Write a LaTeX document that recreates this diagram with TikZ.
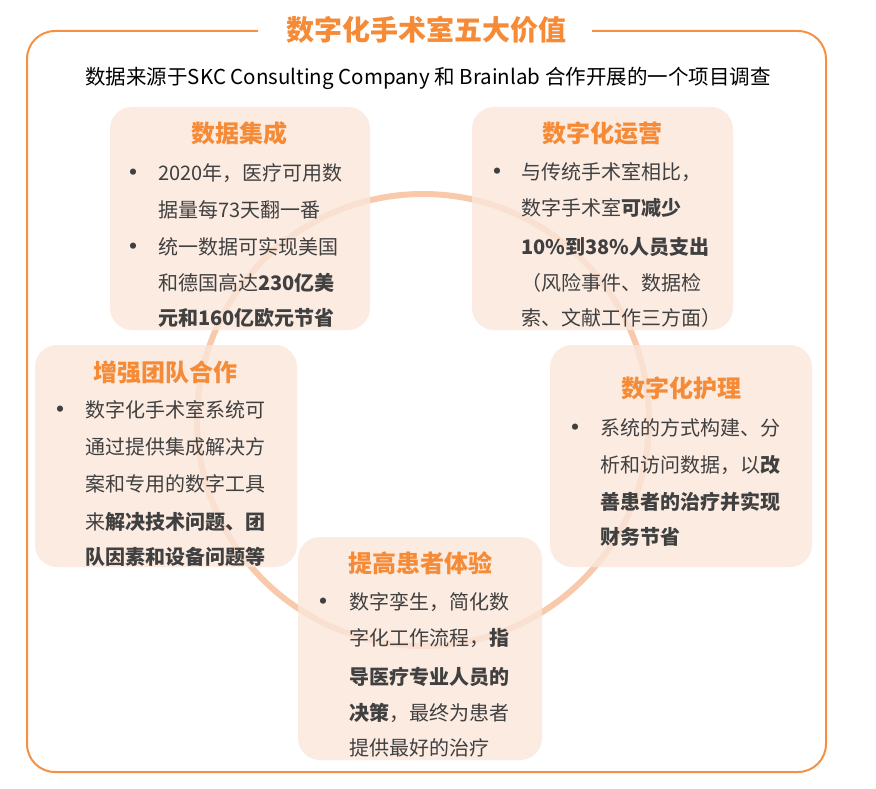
\documentclass[tikz,border=0pt]{standalone}
\usepackage{fontspec}
\setmainfont{Noto Sans CJK SC}
\definecolor{frameor}{RGB}{247,145,65}
\definecolor{heador}{RGB}{246,139,55}
\definecolor{boxfill}{RGB}{250,230,218}
\definecolor{ringc}{RGB}{248,201,170}
\definecolor{txt}{RGB}{64,64,64}
\begin{document}
\begin{tikzpicture}[x=1pt,y=-1pt,
  box/.style={draw=none,fill=boxfill,fill opacity=0.8,rounded corners=22,inner sep=0,minimum height=223},
  head/.style={inner sep=0,text=heador,font=\fontsize{24}{24}\selectfont\bfseries},
  ln/.style={anchor=west,inner sep=0,text=txt,font=\fontsize{20}{20}\selectfont,text height=17.6,text depth=2.4},
  bul/.style={ln,anchor=center,font=\fontsize{22}{22}\selectfont\bfseries}]
\useasboundingbox (0,0) rectangle (876,789);
% ring
\draw[ringc,line width=6] (423,420) circle (226);
% frame
\draw[frameor,line width=2,rounded corners=28] (258,31) -- (27,31) -- (27,772) -- (826,772) -- (826,31) -- (592,31);
\node[inner sep=0,text=heador,font=\fontsize{28}{28}\selectfont\bfseries] (title) at (426,30) {数字化手术室五大价值};
\node[inner sep=0,text=black,font=\fontsize{20.5}{20.5}\selectfont] (sub) at (428,78) {数据来源于SKC Consulting Company 和 Brainlab 合作开展的一个项目调查};
% boxes
\node[box,minimum width=260] (B1) at (240,218.5) {};
\node[box,minimum width=261] (B2) at (602.5,218.5) {};
\node[box,minimum width=262,minimum height=222] (B3) at (166,456) {};
\node[box,minimum width=262,minimum height=222] (B4) at (681,456) {};
\node[box,minimum width=244] (B5) at (420,648.5) {};
% box 1
\node[head] (h1) at (239,133) {数据集成};
\node[bul] (p1a) at (133,173) {•};
\node[ln] (t1a) at (158,173) {2020年，医疗可用数};
\node[ln] (t1b) at (158,210) {据量每73天翻一番};
\node[bul] (p1b) at (133,247) {•};
\node[ln] (t1c) at (158,247) {统一数据可实现美国};
\node[ln] (t1d) at (158,283) {和德国高达\textbf{230亿美}};
\node[ln] (t1e) at (158,318) {\textbf{元和160亿欧元节省}};
% box 2
\node[head] (h2) at (602,133) {数字化运营};
\node[bul] (p2a) at (497,172) {•};
\node[ln] (t2a) at (521,172) {与传统手术室相比，};
\node[ln] (t2b) at (521,208) {数字手术室\textbf{可减少}};
\node[ln] (t2c) at (521,247) {\textbf{10\%到38\%人员支出}};
\node[ln] (t2d) at (521,283) {（风险事件、数据检};
\node[ln] (t2e) at (521,318) {索、文献工作三方面）};
% box 3
\node[head] (h3) at (165,372) {增强团队合作};
\node[bul] (p3a) at (60,410) {•};
\node[ln] (t3a) at (85,410) {数字化手术室系统可};
\node[ln] (t3b) at (85,447) {通过提供集成解决方};
\node[ln] (t3c) at (85,484) {案和专用的数字工具};
\node[ln] (t3d) at (85,522) {来\textbf{解决技术问题、团}};
\node[ln] (t3e) at (85,557) {\textbf{队因素和设备问题等}};
% box 4
\node[head] (h4) at (681,388) {数字化护理};
\node[bul] (p4a) at (575,428) {•};
\node[ln] (t4a) at (600,428) {系统的方式构建、分};
\node[ln] (t4b) at (600,465) {析和访问数据，以\textbf{改}};
\node[ln] (t4c) at (600,502) {\textbf{善患者的治疗并实现}};
\node[ln] (t4d) at (600,537) {\textbf{财务节省}};
% box 5
\node[head] (h5) at (420,563) {提高患者体验};
\node[bul] (p5a) at (323,602) {•};
\node[ln] (t5a) at (349,602) {数字孪生，简化数};
\node[ln] (t5b) at (349,638) {字化工作流程，\textbf{指}};
\node[ln] (t5c) at (349,677) {\textbf{导医疗专业人员的}};
\node[ln] (t5d) at (349,713) {\textbf{决策}，最终为患者};
\node[ln] (t5e) at (349,748) {提供最好的治疗};
\end{tikzpicture}
\end{document}
